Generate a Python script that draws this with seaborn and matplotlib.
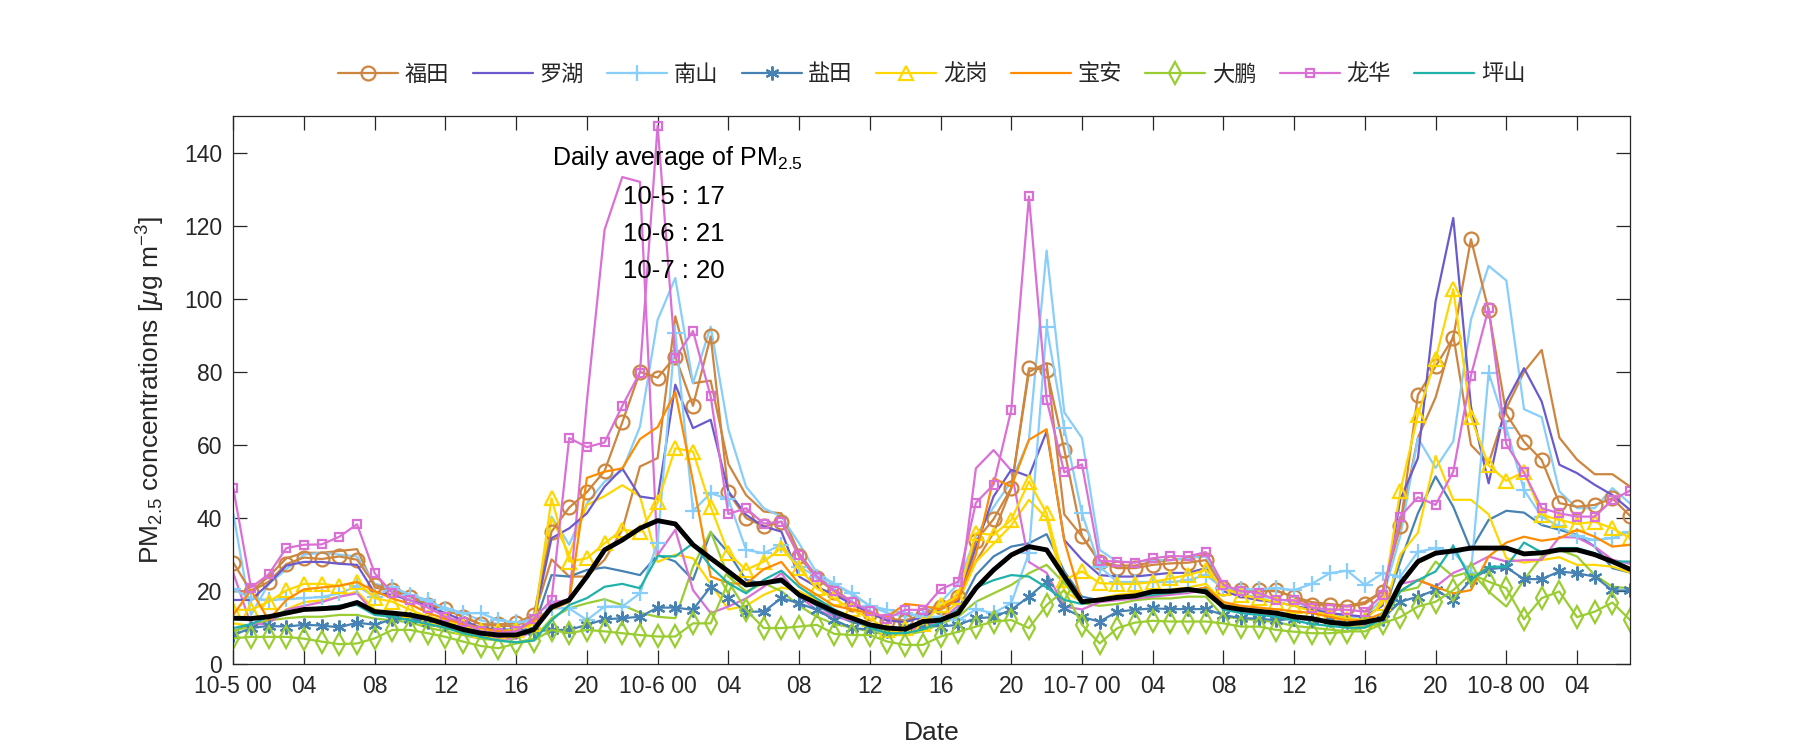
import numpy as np
import matplotlib
matplotlib.use("Agg")
import matplotlib.pyplot as plt
import seaborn as sns

# --- data: hourly PM2.5, 10-5 00 .. 10-8 07 (80 hours) ---
HOURS = np.arange(80)

futian = [27.8, 19.9, 22.6, 27.4, 29.2, 28.8, 29.5, 28.6, 21.7, 20.3, 18.5, 16.2, 15.1, 13.0, 10.9, 10.9, 11.3, 13.5,
          36.3, 42.9, 47.1, 52.9, 66.2, 80, 78.4, 84.2, 70.7, 89.7, 47, 40, 37.7, 39.0,
          29.5, 23.5, 19.9, 16.5, 14.0, 11.9, 11.9, 13.5, 15.8, 18.3, 33.8, 39.7, 48.2, 81, 80.6, 58.7, 35.1,
          28, 26.3, 26.3, 27.2, 27.6, 27.8, 28.5, 20.8, 20.2, 20.2, 20.2, 18.3, 16.2, 16.2, 15.8, 16.5, 19.9,
          37.7, 73.7, 81.5, 89.4, 116.3, 96.8, 68.5, 60.9, 55.9, 44.1, 43.1, 43.6, 45.4, 40.6]
futian_b = [20, 20, 24, 29, 30.5, 30.5, 31, 31.5, 21, 20, 18.5, 16.5, 15, 13, 11, 10.5, 10.5, 13,
            28.7, 24, 24, 28.6, 36.8, 54.1, 56.4, 95.2, 76.9, 77.6, 54.8, 46.3, 41.8, 41.3,
            30.4, 24, 20.5, 17, 14.5, 12.5, 12, 13.5, 16, 19, 28, 36, 48, 80, 82.4, 41, 35,
            28, 27, 27, 28, 28.5, 29, 30, 21, 20.5, 20, 20, 18.5, 17, 16.5, 16, 17, 20,
            38, 62, 73, 90, 60, 55, 70, 80, 86, 62, 56, 52, 52, 48.6]
luohu = [17.6, 17.6, 22, 27, 28, 28, 27.5, 27.2, 19.5, 19, 17.5, 16, 14, 12, 10, 9.5, 9.5, 12,
         34.5, 37.2, 41.3, 48.6, 53.6, 45.9, 45.2, 76.5, 64.6, 66.9, 47.3, 40.9, 37.7, 36.3,
         24, 21.2, 19, 16.5, 14, 12, 11.5, 13, 15, 17.5, 32, 45.9, 53.2, 51.4, 63.7, 34, 28.6,
         24.4, 24, 24, 24.5, 25, 25, 26.3, 20, 18.5, 17.5, 17, 16, 15, 14, 13.5, 13, 16,
         45, 56.4, 99.3, 122.1, 70.5, 49.5, 71.9, 81, 71.9, 54.6, 52.3, 49.1, 46.3, 42.2]
nanshan = [20.5, 18, 17.6, 17.8, 18.1, 18.4, 19.4, 21.4, 18.5, 21.2, 19, 17.6, 15, 14, 14, 12, 11.5, 12,
           15.3, 15.3, 12.1, 15.8, 15.8, 19.4, 33.3, 90.7, 42, 46.8, 45.2, 31.3, 30.4, 32.7,
           26.7, 24, 22, 19.4, 16, 14.9, 14, 13, 13, 12, 15, 14, 16.7, 30.4, 92.4, 64.6, 41.3,
           26.7, 22.5, 22.5, 22.5, 22.5, 23, 24.4, 20.8, 20.5, 20.5, 20.8, 20.3, 22, 24.9, 25.6, 21.7, 24.9,
           24, 30.8, 31.7, 30.8, 25, 79.8, 64.6, 47.7, 40.4, 37.7, 35, 34, 34.5, 36.3]
nanshan_b = [41.3, 13.5, 22, 26, 30, 30.5, 30, 29.5, 22, 21, 19, 17, 15.5, 14, 12, 11, 11, 13,
             40.4, 32.7, 44, 50, 53, 65, 94.2, 105.7, 76.9, 92.4, 64.3, 48.6, 42.7, 40.4,
             33.1, 25, 22, 19, 16, 14, 13, 14, 17, 22, 35, 43, 50, 61.4, 113.2, 68.9, 61.9,
             31.3, 28, 28, 28.5, 28.5, 29, 29.5, 21, 19, 18.5, 18, 17, 15.5, 14, 13, 13, 18,
             35, 61.9, 53.7, 61, 94.3, 109, 105, 69.8, 67.6, 47.3, 42.7, 42.7, 48.2, 44]
yantian = [8, 9.9, 10.5, 10.3, 10.8, 10.6, 10.1, 11.4, 10.8, 12.3, 12.5, 11.5, 11, 10.5, 9.5, 9, 9, 9,
           9.4, 9.4, 10.8, 12.3, 12.6, 13, 15.5, 15.5, 14.9, 21.2, 18.1, 14.4, 14.4, 18.1,
           16.7, 14.9, 12.1, 9.9, 9.5, 9, 10.3, 10.8, 10.3, 10.8, 12.6, 12.9, 14.9, 18.5, 22.6, 15.3, 12.9,
           11.7, 14.4, 14.9, 15.3, 15.1, 15.1, 15.1, 13.5, 12.6, 12.5, 12, 12.5, 12, 12, 11.5, 12, 12.5,
           17.1, 18.5, 20.3, 17.6, 23.1, 26, 26.5, 23.3, 23.3, 25.4, 24.9, 24, 20.2, 20.2]
yantian_b = [9, 11, 12, 14, 15, 15.5, 16, 17, 14, 13, 12.5, 12, 11, 10, 9, 9, 9, 10,
             24.4, 24, 25.8, 26.5, 25.5, 24.4, 29.9, 28.1, 23.1, 36.1, 30.5, 23.1, 22, 22.5,
             19, 16, 13.5, 11.5, 10.5, 9.5, 9.5, 10.5, 12, 15, 24.4, 29.5, 32.2, 33.1, 35.6, 25.4, 18.5,
             17.5, 18, 18.5, 19, 19.5, 20, 21, 16, 15, 14, 13.5, 13, 12, 11.5, 11, 11, 13,
             28, 41.3, 51.4, 43.1, 31.3, 39.5, 42, 41.5, 38.1, 36.8, 35.4, 32.2, 26.3, 25.1]
longgang = [14.9, 14.9, 17.1, 20.2, 22, 22, 21.4, 22.6, 18.1, 17.1, 14.9, 13, 12, 10.5, 9.5, 9, 9.5, 11,
            45.4, 28.1, 29, 33.1, 36.8, 36.3, 44.3, 59.1, 58.2, 43.1, 30.4, 25.8, 28.1, 31.8,
            26.3, 20.8, 18, 15, 12.5, 9.4, 10, 11, 16.2, 18.5, 35.9, 35.4, 39.5, 50, 41.3, 23.1, 25.4,
            22.2, 22, 22, 22.5, 23.5, 24.4, 25.8, 20.8, 19, 18, 17, 16, 14.5, 13.5, 12.5, 12.1, 16.7,
            47.3, 68.2, 83.5, 102.6, 67.6, 54.4, 50.2, 52.7, 40.9, 39.5, 38.4, 39, 37.2, 34.5]
longgang_b = [11.2, 10.5, 12, 15, 17, 17.5, 18.5, 19.9, 15, 14, 12.5, 11, 10, 9, 8, 7.5, 7.5, 9,
              40, 30, 43.6, 46, 49, 46, 28, 30, 29, 22, 15, 16, 19, 21,
              20, 17.5, 15, 13, 11, 9, 8.5, 10, 13, 17, 28, 33, 38, 45, 40, 20, 17,
              18, 19, 19.5, 20, 20.5, 21, 22, 17, 15.5, 14.5, 14, 13, 12, 11.5, 11, 10.5, 13,
              30, 36, 57, 45, 45, 41, 29, 27.8, 28.5, 29.3, 27.2, 27.2, 26.7, 25.1]
baoan = [13.5, 20.3, 12.1, 17.6, 20.5, 21, 21.5, 22.5, 20, 18, 16.5, 14, 12.5, 11, 10, 9, 9, 12,
         15, 17, 51, 52.7, 53.6, 61.6, 64.9, 74.5, 50, 24, 22.2, 22, 26, 28,
         22, 19, 16, 15, 14, 13, 16.5, 16, 15, 18, 30, 50.9, 48.6, 61.4, 64.3, 33.8, 17.1,
         17.5, 18, 18.5, 19, 19.5, 20, 21, 17, 16, 15.5, 15, 14.5, 14, 13, 12, 12, 14,
         20, 23.1, 21.2, 19.4, 20.3, 29.5, 33.3, 34.9, 33.8, 34.5, 36.8, 34.9, 32.2, 32.7]
dapeng = [7.1, 7.5, 7.5, 7.5, 7, 6.2, 5.5, 5.7, 7.1, 9.4, 9.4, 8.5, 7.5, 6.2, 5, 4.4, 5.7, 6.5,
          9.4, 8.5, 9.4, 9, 8.5, 8, 7.6, 7.6, 11.2, 11.2, 22.6, 14.9, 9.9, 9.9,
          10.3, 10.8, 8.3, 8, 8, 6.2, 5.3, 5.3, 7.6, 8.9, 10.3, 11.7, 12.1, 9.9, 16.2, 20.3, 10.8,
          5.7, 9.9, 11.4, 11.9, 11.7, 11.7, 11.7, 11.2, 10.3, 10.3, 9.4, 8.9, 8.5, 8.5, 8.9, 10.3, 11.2,
          12.9, 15.8, 17.1, 20.3, 24.7, 22.6, 20.8, 12.3, 18.1, 19.9, 12.9, 14.4, 16.9, 12.1]
dapeng_b = [9, 10.5, 12, 12.6, 13, 13, 13.5, 13.5, 12.5, 12, 11.5, 10, 9, 8, 7, 6.5, 6, 7,
            12.6, 15.3, 16.7, 17.8, 16.2, 14.1, 13, 12.6, 26.7, 36.3, 24, 19.9, 22.2, 20,
            16, 13, 11, 10, 9, 8, 8, 9, 11, 13, 17.1, 19.4, 21.7, 24.9, 27.2, 22.2, 16.7,
            16, 16.5, 17.5, 18, 18, 18.5, 18.5, 13, 12.5, 12, 11.5, 10.5, 10, 9.5, 9, 9, 11,
            19.9, 21, 28.1, 24, 25.4, 19.9, 15.8, 23.1, 29.5, 31.3, 29.5, 24.4, 21.2, 20.8]
longhua = [48.2, 21, 24.6, 31.8, 32.7, 32.8, 34.9, 38.3, 24.9, 19.5, 17.5, 15.5, 13, 11.5, 9, 8.5, 9, 12.5,
           17.6, 61.9, 59.4, 60.7, 70.7, 79.8, 147.4, 83.8, 91.2, 73.3, 41.1, 42.7, 38.5, 39,
           29.9, 24, 20, 17, 14.5, 12.5, 14.9, 14.9, 20.5, 22.6, 44.2, 49.1, 69.6, 128, 72.4, 52.5, 54.7,
           28.3, 28.1, 27.8, 29, 29.6, 29.5, 30.7, 21.7, 20, 19.5, 17.6, 17.5, 15.5, 15, 14.9, 14.4, 19,
           40.4, 45.7, 43.6, 52.7, 79, 97.4, 60.2, 52.5, 42.7, 41.3, 40.4, 40.4, 45, 47.5]
longhua_b = [25, 10.8, 11.2, 14.9, 16, 17, 18.5, 19.4, 14, 13, 12.5, 11.5, 11, 10, 8, 7, 7, 9,
             17, 17.6, 72, 118.9, 133.3, 132, 29.9, 36.8, 20.3, 14, 15.8, 18, 21.2, 24.9,
             18.5, 14.9, 13, 12, 11, 9.5, 9.5, 10, 12, 16, 53.6, 58.6, 53, 28, 25, 15.8, 15,
             17, 17.5, 18, 18.5, 19, 19.5, 20.5, 14.9, 14.5, 14, 13.5, 13, 12.5, 11.5, 11, 10.5, 13,
             22, 23, 21.2, 25, 27, 29.5, 28.1, 28.5, 28.6, 34.8, 34.7, 32.2, 28.6, 27.5]
pingshan = [9.9, 11, 13, 14.5, 15, 15.5, 16, 16.2, 13.5, 13, 12, 11, 10, 8.5, 7.5, 6.5, 6, 6.5,
            12, 16.2, 18.1, 21.2, 22, 20.8, 29.6, 29.5, 33.1, 26.7, 22.2, 19.4, 23.1, 25.6,
            21.2, 18, 15, 12.5, 10, 8.5, 8.5, 9.5, 11.5, 15, 21, 23, 24.4, 24, 21, 17.6, 16.5,
            17.5, 18, 18.5, 19, 19.5, 20, 20.5, 15, 14, 13.5, 13, 12, 11, 10.5, 10, 10, 12.5,
            20, 23, 25.4, 32.4, 23.1, 26.7, 26.7, 33.3, 30.6, 31.8, 31.8, 30.4, 28.1, 28.1]
city_mean = [12.6, 12.5, 13, 14, 15, 15.2, 15.5, 16.9, 14.4, 14, 13.5, 12.5, 11, 9.5, 8.5, 8, 8, 9.5,
             15.6, 17.6, 24, 31.3, 34, 37.2, 39.3, 38.4, 32.7, 29, 25.4, 21.7, 22.2, 23.1,
             19, 16.7, 14.4, 12.6, 10.8, 9.9, 9.6, 11.7, 12.1, 14, 20.8, 25.8, 29.9, 32.2, 31.3, 24, 17.1,
             17.6, 18.3, 18.7, 19.9, 20, 20.5, 19.8, 15.8, 15, 14.5, 14, 13, 12.5, 11.5, 11, 11.5, 12.5,
             22, 28.1, 30.4, 31, 31.8, 31.8, 31.8, 30.2, 30.5, 31.3, 31.3, 30, 28.1, 26]

DISTRICTS = ['福田', '罗湖', '南山', '盐田', '龙岗', '宝安', '大鹏', '龙华', '坪山']
TICK_POS = np.arange(0, 80, 4)
TICK_LABELS = ['10-5 00', '04', '08', '12', '16', '20',
               '10-6 00', '04', '08', '12', '16', '20',
               '10-7 00', '04', '08', '12', '16', '20',
               '10-8 00', '04']
DAILY_AVG = [('10-5', 17), ('10-6', 21), ('10-7', 20)]

sns.set_theme(style="ticks")
plt.rcParams['font.family'] = ['Liberation Sans', 'Noto Sans CJK SC', 'DejaVu Sans']
plt.rcParams['mathtext.fontset'] = 'custom'
plt.rcParams['mathtext.rm'] = 'Liberation Sans'
plt.rcParams['mathtext.it'] = 'Liberation Sans:italic'

# colour, marker, marker size
STYLE = {
    '福田': ('#CD853F', 'o', 10),
    '罗湖': ('#6A5ACD', None, 0),
    '南山': ('#87CEFA', '+', 11),
    '盐田': ('#4682B4', (6, 2, 0), 10),
    '龙岗': ('#FFD700', '^', 10),
    '宝安': ('#FF8C00', None, 0),
    '大鹏': ('#9ACD32', 'd', 11),
    '龙华': ('#DA70D6', 's', 6),
    '坪山': ('#20B2AA', None, 0),
}
MAIN = {'福田': futian, '罗湖': luohu, '南山': nanshan, '盐田': yantian, '龙岗': longgang,
        '宝安': baoan, '大鹏': dapeng, '龙华': longhua, '坪山': pingshan}
SECOND = {'福田': futian_b, '南山': nanshan_b, '盐田': yantian_b, '龙岗': longgang_b,
          '大鹏': dapeng_b, '龙华': longhua_b}

fig = plt.figure(figsize=(18, 7.5), dpi=100)
ax = fig.add_axes([0.1296, 0.1143, 0.776, 0.731])

# second stations of a district: plain lines, not in the legend
for name, vals in SECOND.items():
    sns.lineplot(x=HOURS, y=vals, ax=ax, color=STYLE[name][0], linewidth=1.6, legend=False)

for name in DISTRICTS:
    c, m, ms = STYLE[name]
    kw = dict(color=c, linewidth=1.6, label=name)
    if m is not None:
        kw.update(marker=m, markersize=ms, markerfacecolor='none', markeredgecolor=c, markeredgewidth=1.6)
    sns.lineplot(x=HOURS, y=MAIN[name], ax=ax, **kw)

sns.lineplot(x=HOURS, y=city_mean, ax=ax, color='black', linewidth=3.5, legend=False)

ax.set_xlim(0, 79)
ax.set_ylim(0, 150)
ax.set_xticks(TICK_POS)
ax.set_xticklabels(TICK_LABELS)
ax.set_yticks(np.arange(0, 141, 20))
ax.tick_params(direction='in', length=10, width=0.9, top=True, right=True,
               labelsize=16.5, colors='#262626', pad=8)
for sp in ax.spines.values():
    sp.set_visible(True)
    sp.set_color('#262626')
    sp.set_linewidth(0.9)

ax.set_xlabel('Date', fontsize=19, color='#262626', labelpad=16)
ax.set_ylabel('PM$_{2.5}$ concentrations [$\\mu$g m$^{-3}$]', fontsize=19, color='#262626', labelpad=12)

ax.text(18, 138.6, 'Daily average of PM$_{2.5}$', fontsize=18, va='center', ha='left', color='black')
for i, (day, v) in enumerate(DAILY_AVG):
    ax.text(22.05, 127.8 - i * 10.1, f'{day} : {v}', fontsize=18.5, va='center', ha='left', color='black')

handles, labels = ax.get_legend_handles_labels()
lookup = dict(zip(labels, handles))
leg = ax.legend([lookup[n] for n in DISTRICTS], DISTRICTS, loc='center', bbox_to_anchor=(0.5, 1.075),
                ncol=9, frameon=False, fontsize=16, handlelength=2.7, handletextpad=0.3,
                columnspacing=1.05)

fig.savefig('out.png', dpi=100)
